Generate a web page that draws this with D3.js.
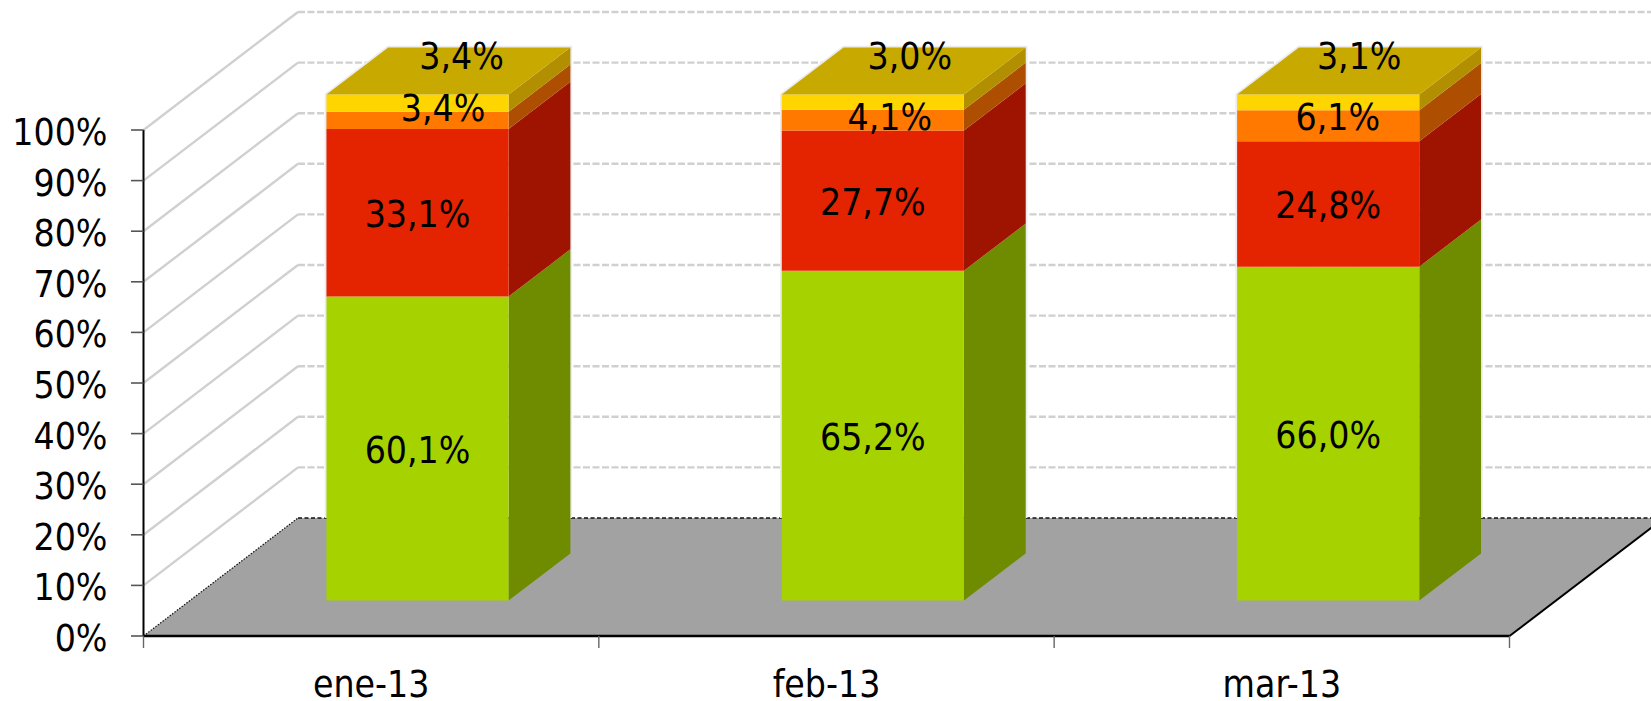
<!DOCTYPE html>
<html><head><meta charset="utf-8">
<script src="https://cdn.jsdelivr.net/npm/d3@7/dist/d3.min.js"></script>
<style>html,body{margin:0;padding:0;background:#fff;overflow:hidden}svg{display:block}
text{font-family:"DejaVu Sans Condensed","DejaVu Sans",sans-serif;font-stretch:condensed;fill:#000}</style>
</head><body><svg id="c" width="1651" height="701"></svg>
<script>
const categories = ["ene-13","feb-13","mar-13"];
const seriesA = [60.1,65.2,66.0];
const seriesB = [33.1,27.7,24.8];
const seriesC = [3.4,4.1,6.1];
const seriesD = [3.4,3.0,3.1];
const yTicks = [0,10,20,30,40,50,60,70,80,90,100];

const W=1651,H=701, FS=37;
const svg=d3.select("#c");
const x=d3.scaleBand().domain(categories).range([143.5,1509.5]).paddingInner(0.6).paddingOuter(0.3);
const step=x.step();
const y=d3.scaleLinear().domain([0,100]).range([636,130]);
const depth=d3.scaleLinear().domain([0,1]).range([0,1]);
const DX=154.5, DY=-118;
const P=(px,v,z)=>[px+DX*depth(z), y(v)+DY*depth(z)];
const poly=pts=>pts.map(p=>p.join(",")).join(" ");
const xL=x.range()[0], xR=x.range()[1];
svg.append("defs").append("clipPath").attr("id","pg").append("rect").attr("width",W).attr("height",H);
const root=svg.append("g").attr("clip-path","url(#pg)");

// wall gridlines
yTicks.filter(t=>t>0).forEach(t=>{
  const a=P(xL,t,0), b=P(xL,t,1), c=P(xR,t,1);
  root.append("line").attr("x1",a[0]).attr("y1",a[1]).attr("x2",b[0]).attr("y2",b[1])
    .attr("stroke","#d0d0d0").attr("stroke-width",2.4);
  root.append("line").attr("x1",b[0]).attr("y1",b[1]).attr("x2",c[0]).attr("y2",c[1])
    .attr("stroke","#d0d0d0").attr("stroke-width",2.4).attr("stroke-dasharray","7 2.5");
});
// floor
const f=[P(xL,0,0),P(xL,0,1),P(xR,0,1),P(xR,0,0)];
root.append("polygon").attr("points",poly(f)).attr("fill","#a2a2a2");
root.append("line").attr("x1",f[1][0]).attr("y1",f[1][1]).attr("x2",f[2][0]).attr("y2",f[2][1])
  .attr("stroke","#111").attr("stroke-width",1.3).attr("stroke-dasharray","4 2.5");
root.append("line").attr("x1",f[0][0]).attr("y1",f[0][1]).attr("x2",f[1][0]).attr("y2",f[1][1])
  .attr("stroke","#111").attr("stroke-width",1.2).attr("stroke-dasharray","1.5 1.5");
root.append("line").attr("x1",f[3][0]).attr("y1",f[3][1]).attr("x2",f[2][0]).attr("y2",f[2][1])
  .attr("stroke","#000").attr("stroke-width",2);
root.append("line").attr("x1",f[0][0]).attr("y1",f[0][1]).attr("x2",f[3][0]).attr("y2",f[3][1])
  .attr("stroke","#000").attr("stroke-width",2.6);
// y axis
root.append("line").attr("x1",xL).attr("y1",y(100)).attr("x2",xL).attr("y2",y(0)).attr("stroke","#000").attr("stroke-width",2);
yTicks.forEach(t=>{
  root.append("line").attr("x1",131).attr("x2",xL).attr("y1",y(t)).attr("y2",y(t)).attr("stroke","#555").attr("stroke-width",1.6);
  root.append("text").attr("x",107.5).attr("y",y(t)+15).attr("text-anchor","end").attr("font-size",FS).text(t+"%");
});
// x ticks and labels
d3.range(categories.length+1).forEach(i=>{
  const tx=xL+i*step;
  root.append("line").attr("x1",tx).attr("x2",tx).attr("y1",y(0)).attr("y2",648).attr("stroke","#666").attr("stroke-width",1.4);
});
categories.forEach(c=>{
  root.append("text").attr("x",x(c)+x.bandwidth()/2).attr("y",696.5).attr("text-anchor","middle").attr("font-size",FS).text(c);
});
// bars
const series=[
 {v:seriesA,front:"#a6d200",side:"#6f8c00"},
 {v:seriesB,front:"#e42300",side:"#9e1400"},
 {v:seriesC,front:"#ff7800",side:"#ae4e00"},
 {v:seriesD,front:"#ffd500",side:"#b28f00"}];
const topCol="#c8a900";
const z0=0.3,z1=0.7;
const fmt=v=>v.toFixed(1).replace(".",",")+"%";
const nudgeX=[[0,0,25.5,44],[0,0,17,37],[0,0,9.7,31]];
const nudgeY=[[0,0,-14,-48.6],[0,0,-5,-47.5],[0,0,-10.7,-48]];
const floorBack=y(0)+DY;
categories.forEach((c,i)=>{
  const l=x(c), r=l+x.bandwidth();
  const g=root.append("g");
  const tl=P(l,100,z0), tb=P(l,100,z1), tr=P(r,100,z1);
  g.append("polyline").attr("points",poly([[tl[0],floorBack],tl,tb,tr,[tr[0],floorBack]]))
    .attr("fill","none").attr("stroke","#ececec").attr("stroke-width",3.5);
  let base=0;
  series.forEach(s=>{
    const t=base+s.v[i];
    g.append("polygon").attr("points",poly([P(r,base,z0),P(r,t,z0),P(r,t,z1),P(r,base,z1)])).attr("fill",s.side);
    g.append("polygon").attr("points",poly([P(l,base,z0),P(l,t,z0),P(r,t,z0),P(r,base,z0)])).attr("fill",s.front);
    base=t;
  });
  g.append("polygon").attr("points",poly([P(l,base,z0),P(l,base,z1),P(r,base,z1),P(r,base,z0)])).attr("fill",topCol);
});
categories.forEach((c,i)=>{
  const l=x(c), r=l+x.bandwidth();
  let base=0;
  series.forEach((s,k)=>{
    const t=base+s.v[i];
    const mid=P((l+r)/2,(base+t)/2,z0);
    root.append("text").attr("x",mid[0]+nudgeX[i][k]).attr("y",mid[1]+14.5+nudgeY[i][k])
      .attr("text-anchor","middle").attr("font-size",FS).text(fmt(s.v[i]));
    base=t;
  });
});
</script></body></html>
